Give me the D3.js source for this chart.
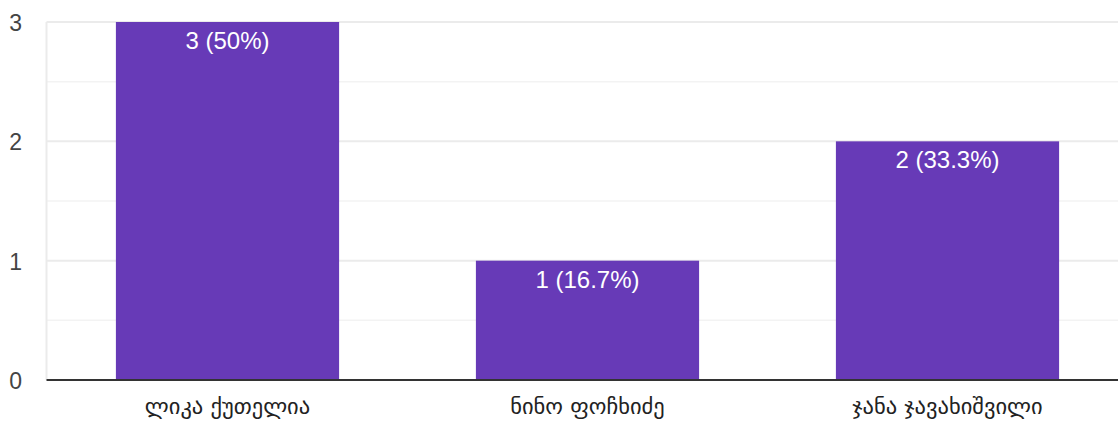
<!DOCTYPE html>
<html>
<head>
<meta charset="utf-8">
<script src="https://cdn.jsdelivr.net/npm/d3@7.9.0/dist/d3.min.js"></script>
<style>
  body { margin: 0; background: #fff; }
  text { font-family: "Liberation Sans", Arial, "DejaVu Sans", sans-serif; }
</style>
</head>
<body>
<div id="chart"></div>
<script>
// data
const categories = ["ლიკა ქუთელია", "ნინო ფოჩხიძე", "ჯანა ჯავახიშვილი"];
const counts = [3, 1, 2];
const percents = ["50%", "16.7%", "33.3%"];
const yTicks = [0, 1, 2, 3];
const minorTicks = [0.5, 1.5, 2.5];

const W = 1118, H = 422;
const plotLeft = 47.5, plotTop = 22, plotBottom = 380;

const svg = d3.select("#chart").append("svg")
    .attr("width", W)
    .attr("height", H);

const x = d3.scaleBand()
    .domain(categories)
    .range([plotLeft, plotLeft + 360 * 3])
    .paddingInner(0.38)
    .paddingOuter(0.19);

const y = d3.scaleLinear()
    .domain([0, 3])
    .range([plotBottom, plotTop]);

// minor gridlines
svg.append("g").selectAll("line")
    .data(minorTicks)
    .join("line")
    .attr("x1", plotLeft - 1).attr("x2", W)
    .attr("y1", d => y(d)).attr("y2", d => y(d))
    .attr("stroke", "#f3f3f3")
    .attr("stroke-width", 1.5);

// major gridlines
svg.append("g").selectAll("line")
    .data(yTicks.filter(d => d > 0))
    .join("line")
    .attr("x1", plotLeft - 1).attr("x2", W)
    .attr("y1", d => y(d)).attr("y2", d => y(d))
    .attr("stroke", "#ebebeb")
    .attr("stroke-width", 2);

// left frame line
svg.append("line")
    .attr("x1", plotLeft - 1).attr("x2", plotLeft - 1)
    .attr("y1", y(3)).attr("y2", y(0))
    .attr("stroke", "#ebebeb")
    .attr("stroke-width", 2);

// bars
svg.append("g").selectAll("rect")
    .data(counts)
    .join("rect")
    .attr("x", (d, i) => x(categories[i]))
    .attr("y", d => y(d))
    .attr("width", x.bandwidth())
    .attr("height", d => y(0) - y(d))
    .attr("fill", "#673ab7");

// bar value labels
svg.append("g").selectAll("text")
    .data(counts)
    .join("text")
    .attr("x", (d, i) => x(categories[i]) + x.bandwidth() / 2)
    .attr("y", d => y(d) + 27)
    .attr("text-anchor", "middle")
    .attr("fill", "#fff")
    .attr("font-size", 24)
    .text((d, i) => `${d} (${percents[i]})`);

// y axis labels
svg.append("g").selectAll("text")
    .data(yTicks)
    .join("text")
    .attr("x", 22)
    .attr("y", d => y(d) + 9)
    .attr("text-anchor", "end")
    .attr("fill", "#444")
    .attr("font-size", 23)
    .text(d => d);

// baseline
svg.append("line")
    .attr("x1", plotLeft - 1).attr("x2", W)
    .attr("y1", y(0)).attr("y2", y(0))
    .attr("stroke", "#333")
    .attr("stroke-width", 2);

// category labels
svg.append("g").selectAll("text")
    .data(categories)
    .join("text")
    .attr("x", d => x(d) + x.bandwidth() / 2)
    .attr("y", 414)
    .attr("text-anchor", "middle")
    .attr("fill", "#222")
    .attr("font-size", 22.5)
    .style("font-family", "\"DejaVu Sans\", sans-serif")
    .text(d => d);
</script>
</body>
</html>
